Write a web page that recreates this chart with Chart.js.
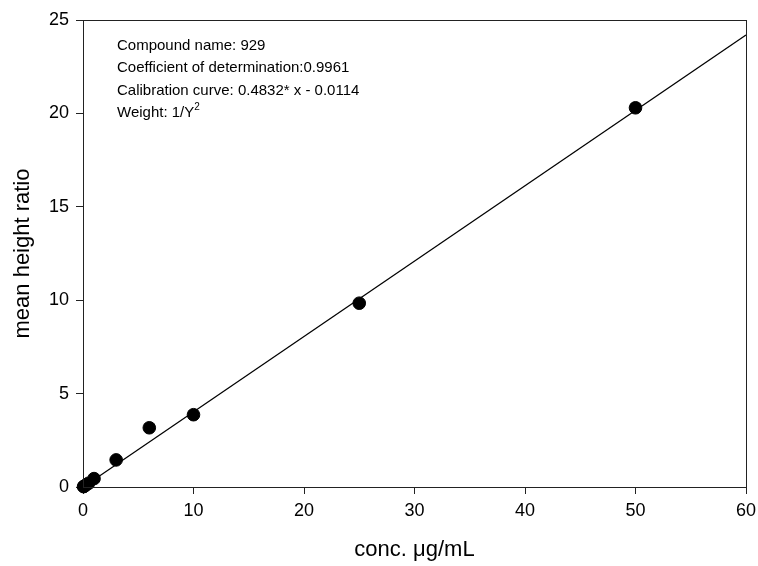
<!DOCTYPE html>
<html>
<head>
<meta charset="utf-8">
<script src="https://cdn.jsdelivr.net/npm/chart.js@4/dist/chart.umd.min.js"></script>
<style>
  html, body { margin: 0; padding: 0; background: #fff; }
  #wrap { width: 758px; height: 566px; }
</style>
</head>
<body>
<div id="wrap"><canvas id="calChart"></canvas></div>
<script>
// Messpunkte (Konzentration / mittleres Höhenverhältnis)
var concValues = [0.05, 0.1, 0.25, 0.5, 1, 3, 6, 10, 25, 50];
var ratioValues = [0.02, 0.04, 0.1, 0.2, 0.45, 1.45, 3.17, 3.87, 9.84, 20.3];
// Kalibriergerade, so wie sie im Bild gezeichnet ist
var fitX = [0, 60];
var fitY = [-0.01, 24.2];
// Achsen
var xTicks = [0, 10, 20, 30, 40, 50, 60];
var yTicks = [0, 5, 10, 15, 20, 25];
// Info-Text oben links
var infoLines = [
    'Compound name: 929',
    'Coefficient of determination:0.9961',
    'Calibration curve: 0.4832* x - 0.0114',
    'Weight: 1/Y'
];

var fontFam = '"Liberation Sans", Arial, sans-serif';

// Rahmen ums Plotgebiet + Infotext
var boxPlugin = {
    id: 'boxPlugin',
    afterDraw: function(chart) {
        var ctx = chart.ctx;
        var a = chart.chartArea;
        ctx.save();
        ctx.strokeStyle = '#222';
        ctx.lineWidth = 1;
        ctx.strokeRect(Math.round(a.left) + 0.5, Math.round(a.top) + 0.5,
            Math.round(a.right - a.left), Math.round(a.bottom - a.top));

        ctx.fillStyle = '#000';
        ctx.textBaseline = 'middle';
        ctx.font = '15px ' + fontFam;
        var x = a.left + 34;
        infoLines.forEach(function(line, i) {
            var y = a.top + 25.5 + i * 22.5;
            ctx.fillText(line, x, y);
            if (i === infoLines.length - 1) {
                var w = ctx.measureText(line).width;
                ctx.font = '10px ' + fontFam;
                ctx.fillText('2', x + w, y - 6);
                ctx.font = '15px ' + fontFam;
            }
        });
        ctx.restore();
    }
};

var pointData = concValues.map(function(c, i) { return {x: c, y: ratioValues[i]}; });
var lineData = fitX.map(function(c, i) { return {x: c, y: fitY[i]}; });

new Chart(document.getElementById('calChart').getContext('2d'), {
    type: 'scatter',
    data: {
        datasets: [{
            label: 'fit',
            data: lineData,
            showLine: true,
            borderColor: '#000',
            borderWidth: 1.3,
            pointRadius: 0,
            fill: false
        }, {
            label: 'samples',
            data: pointData,
            backgroundColor: '#000',
            borderColor: '#000',
            pointRadius: 6.3,
            clip: false
        }]
    },
    options: {
        responsive: true,
        maintainAspectRatio: false,
        animation: false,
        layout: { padding: { top: 20, right: 12, left: 0, bottom: 0 } },
        plugins: {
            legend: { display: false },
            tooltip: { enabled: false }
        },
        scales: {
            x: {
                type: 'linear',
                min: 0,
                max: 60,
                afterBuildTicks: function(scale) {
                    scale.ticks = xTicks.map(function(v) { return {value: v}; });
                },
                afterFit: function(scale) {
                    scale.height = 79;
                    scale.paddingLeft = 0;
                    scale.paddingRight = 0;
                },
                border: { display: true, color: '#222', width: 1 },
                grid: { drawOnChartArea: false, drawTicks: true, tickLength: 7, tickColor: '#222' },
                ticks: { color: '#000', padding: 6, font: { family: fontFam, size: 18 }, maxRotation: 0 },
                title: {
                    display: true,
                    text: 'conc. μg/mL',
                    color: '#000',
                    font: { family: fontFam, size: 22 },
                    padding: { top: 0, bottom: 3 }
                }
            },
            y: {
                type: 'linear',
                min: 0,
                max: 25,
                afterBuildTicks: function(scale) {
                    scale.ticks = yTicks.map(function(v) { return {value: v}; });
                },
                afterFit: function(scale) {
                    scale.width = 83;
                    scale.paddingTop = 0;
                    scale.paddingBottom = 0;
                },
                border: { display: true, color: '#222', width: 1 },
                grid: { drawOnChartArea: false, drawTicks: true, tickLength: 7, tickColor: '#222' },
                ticks: { color: '#000', padding: 7, font: { family: fontFam, size: 18 } },
                title: {
                    display: true,
                    text: 'mean height ratio',
                    color: '#000',
                    font: { family: fontFam, size: 22 },
                    padding: { top: 10, bottom: 0 }
                }
            }
        }
    },
    plugins: [boxPlugin]
});
</script>
</body>
</html>
